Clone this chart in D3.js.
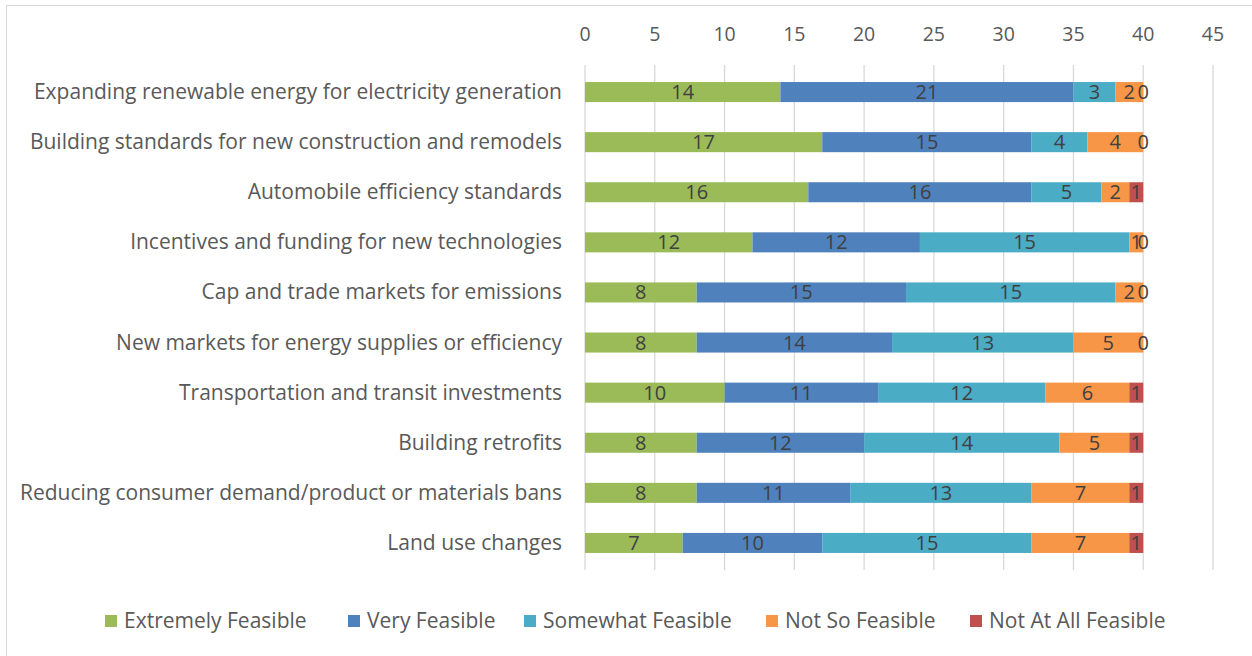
<!DOCTYPE html>
<html><head><meta charset="utf-8">
<script src="https://cdn.jsdelivr.net/npm/d3@7"></script>
<style>body{margin:0;background:#fff;} svg{display:block;font-family:"Open Sans",sans-serif;}</style>
</head><body><svg id="c" width="1252" height="656"></svg>
<script>
const categories = [
  "Expanding renewable energy for electricity generation",
  "Building standards for new construction and remodels",
  "Automobile efficiency standards",
  "Incentives and funding for new technologies",
  "Cap and trade markets for emissions",
  "New markets for energy supplies or efficiency",
  "Transportation and transit investments",
  "Building retrofits",
  "Reducing consumer demand/product or materials bans",
  "Land use changes"
];
const seriesNames = ["Extremely Feasible","Very Feasible","Somewhat Feasible","Not So Feasible","Not At All Feasible"];
const extremely = [14,17,16,12,8,8,10,8,8,7];
const very      = [21,15,16,12,15,14,11,12,11,10];
const somewhat  = [3,4,5,15,15,13,12,14,13,15];
const notSo     = [2,4,2,1,2,5,6,5,7,7];
const notAtAll  = [0,0,1,0,0,0,1,1,1,1];
const xTicks = [0,5,10,15,20,25,30,35,40,45];
const colors = ["#9BBB59","#4F81BD","#4BACC6","#F79646","#C0504D"];

const seriesVals = [extremely, very, somewhat, notSo, notAtAll];
const rows = categories.map((c,i)=>{const o={cat:c}; seriesNames.forEach((s,j)=>o[s]=seriesVals[j][i]); return o;});
const stack = d3.stack().keys(seriesNames)(rows);

const svg = d3.select("#c");
svg.append("rect").attr("x",6.5).attr("y",5.5).attr("width",1260).attr("height",660)
  .attr("fill","#fff").attr("stroke","#d9d9d9");

const x = d3.scaleLinear().domain([0,45]).range([585,1213]);
const y = d3.scaleBand().domain(categories).range([67,568]).paddingInner(0.6).paddingOuter(0.3);

// gridlines
svg.append("g").selectAll("line").data(xTicks).join("line")
  .attr("x1",d=>x(d)).attr("x2",d=>x(d)).attr("y1",65).attr("y2",570)
  .attr("stroke","#d9d9d9").attr("stroke-width",1.3);

// top axis labels
svg.append("g").selectAll("text").data(xTicks).join("text")
  .attr("x",d=>x(d)).attr("y",41).attr("text-anchor","middle")
  .attr("fill","#595959").attr("font-size",19.5).text(d=>d);

// bars
const g = svg.append("g");
stack.forEach((s,j)=>{
  g.append("g").selectAll("rect").data(s).join("rect")
    .attr("x",d=>x(d[0])).attr("width",d=>x(d[1])-x(d[0]))
    .attr("y",d=>y(d.data.cat)).attr("height",y.bandwidth())
    .attr("fill",colors[j]);
});
stack.forEach((s,j)=>{
  g.append("g").selectAll("text").data(s).join("text")
    .attr("x",d=>x((d[0]+d[1])/2)).attr("y",d=>y(d.data.cat)+y.bandwidth()/2+7)
    .attr("text-anchor","middle").attr("fill","#404040").attr("font-size",20)
    .text(d=>d[1]-d[0]);
});

// category labels
svg.append("g").selectAll("text").data(categories).join("text")
  .attr("x",562).attr("y",d=>y(d)+y.bandwidth()/2+7).attr("text-anchor","end")
  .attr("fill","#595959").attr("font-size",21).text(d=>d);

// legend
const legX = [105,348,524,766,970];
const leg = svg.append("g").selectAll("g").data(seriesNames).join("g")
  .attr("transform",(d,i)=>`translate(${legX[i]},621)`);
leg.append("rect").attr("x",0).attr("y",-6).attr("width",12).attr("height",12).attr("fill",(d,i)=>colors[i]);
leg.append("text").attr("x",19).attr("y",7).attr("fill","#595959").attr("font-size",21).text(d=>d);
</script></body></html>
